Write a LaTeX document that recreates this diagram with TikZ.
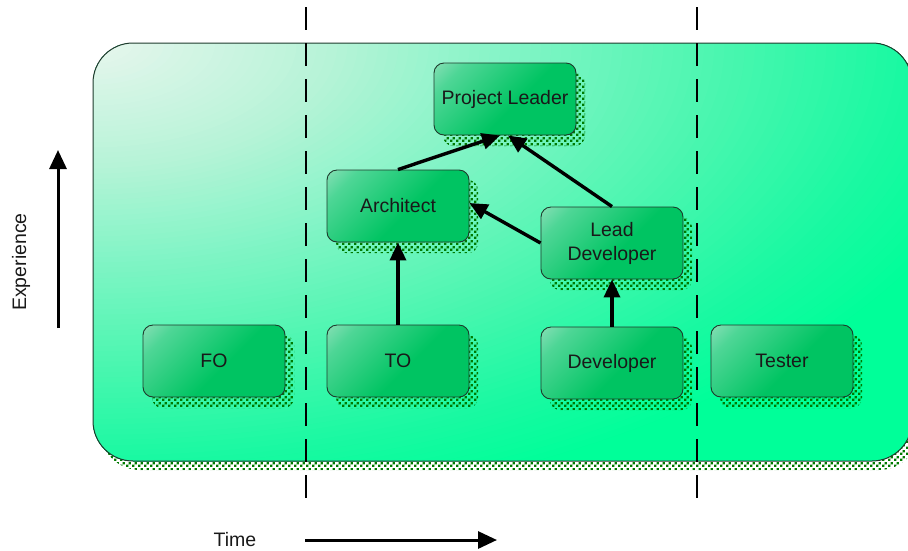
\documentclass[tikz,border=0pt]{standalone}
\usepackage{fontspec}
\setmainfont{Liberation Sans}
\usetikzlibrary{arrows.meta,patterns}

\definecolor{bglight}{HTML}{E8F6EE}
\definecolor{bgpale}{HTML}{B8F3D8}
\definecolor{bgmid}{HTML}{82F4C6}
\definecolor{bgdeep}{HTML}{4CF6B0}
\definecolor{bgnear}{HTML}{1AF9A2}
\definecolor{bggreen}{HTML}{00FF99}
\definecolor{nlight}{HTML}{D2ECE0}
\definecolor{nmid}{HTML}{4ED696}
\definecolor{ndark}{HTML}{00C462}
\definecolor{nborder}{HTML}{1E3A2C}
\definecolor{shadowgreen}{HTML}{007A00}

\pgfdeclareverticalshading{roleshade}{100bp}{color(0bp)=(ndark); color(45bp)=(ndark); color(75bp)=(nmid); color(100bp)=(nlight)}

% coarse square dots used for the drop shadows
\pgfdeclarepatternformonly{shadowdots}{\pgfpointorigin}{\pgfpoint{6pt}{6pt}}{\pgfpoint{6pt}{6pt}}{%
  \pgfpathrectangle{\pgfpoint{0pt}{0pt}}{\pgfpoint{2.7pt}{2.7pt}}%
  \pgfpathrectangle{\pgfpoint{3pt}{3pt}}{\pgfpoint{2.7pt}{2.7pt}}%
  \pgfusepath{fill}}

\tikzset{
  role/.style={shape=rectangle, rounded corners=10pt, draw=nborder, line width=0.9pt,
    shading=roleshade, shading angle=45, minimum width=142pt, minimum height=72pt,
    align=center, font=\fontsize{19.5}{24}\selectfont, text=black!90},
  dotshadow/.style={pattern=shadowdots, pattern color=shadowgreen},
  link/.style={line width=3.4pt, -{Triangle[length=18pt, width=16pt]}},
  axisarrow/.style={line width=3pt, -{Triangle[length=19pt, width=17pt]}},
  phase/.style={line width=2.8pt, dash pattern=on 23pt off 13pt},
  caption/.style={font=\fontsize{19.5}{24}\selectfont, text=black!90}
}

\begin{document}
\begin{tikzpicture}[x=1pt, y=-1pt]
  \useasboundingbox (0,0) rectangle (908,550);

  % panel shadow
  \path[dotshadow, rounded corners=40pt] (100,51) rectangle (919,470);

  % panel fill: elliptical glow spreading from the upper left corner
  \begin{scope}
    \clip[rounded corners=40pt] (93,43) rectangle (912,461);
    \fill[bggreen] (93,43) rectangle (912,461);
    \foreach \k in {92,...,1}{
      \pgfmathsetmacro\t{\k*0.0125}
      \ifdim\t pt<0.29pt
        \pgfmathsetmacro\p{100*(0.29-\t)/0.29}\colorlet{ring}{bglight!\p!bgpale}
      \else\ifdim\t pt<0.52pt
        \pgfmathsetmacro\p{100*(0.52-\t)/0.23}\colorlet{ring}{bgpale!\p!bgmid}
      \else\ifdim\t pt<0.77pt
        \pgfmathsetmacro\p{100*(0.77-\t)/0.25}\colorlet{ring}{bgmid!\p!bgdeep}
      \else\ifdim\t pt<1.0pt
        \pgfmathsetmacro\p{100*(1.0-\t)/0.23}\colorlet{ring}{bgdeep!\p!bgnear}
      \else
        \pgfmathsetmacro\p{100*(1.15-\t)/0.15}\colorlet{ring}{bgnear!\p!bggreen}
      \fi\fi\fi\fi
      \pgfmathsetmacro\rx{815*\t}
      \pgfmathsetmacro\ry{418*\t}
      \fill[ring] (93,43) ellipse [x radius=\rx pt, y radius=\ry pt];
    }
  \end{scope}
  \draw[nborder, line width=1pt, rounded corners=40pt] (93,43) rectangle (912,461);

  % role shadows
  \foreach \cx/\cy in {505/99, 398/206, 612/243, 214/361, 398/361, 612/363, 782/361}
    \path[dotshadow, rounded corners=10pt] (\cx-62,\cy-26) rectangle (\cx+80,\cy+47);

  % roles
  \node[role] (pl)   at (505,99)  {Project Leader};
  \node[role] (arch) at (398,206) {Architect};
  \node[role] (lead) at (612,243) {Lead\\Developer};
  \node[role] (fo)   at (214,361) {FO};
  \node[role] (to)   at (398,361) {TO};
  \node[role] (dev)  at (612,363) {Developer};
  \node[role] (test) at (782,361) {Tester};

  % career links
  \draw[link] (to.north) -- (arch.south);
  \draw[link] (dev.north) -- (lead.south);
  \draw[link] (lead.west) -- ([yshift=3pt]arch.east);
  \draw[link] (arch.north) -- ([xshift=-5pt]pl.south);
  \draw[link] (lead.north) -- ([xshift=3pt]pl.south);

  % phase separators
  \coordinate (s1top) at (306,7);
  \coordinate (s1bot) at (306,499);
  \coordinate (s2top) at (697,7);
  \coordinate (s2bot) at (697,499);
  \draw[phase] (s1top) -- (s1bot);
  \draw[phase] (s2top) -- (s2bot);

  % axes
  \coordinate (ybase) at (58,328);
  \coordinate (ytip)  at (58,150);
  \draw[axisarrow] (ybase) -- (ytip);
  \node[caption, rotate=90] (explabel) at (21,262) {Experience};

  \coordinate (xbase) at (305,540);
  \coordinate (xtip)  at (497,540);
  \draw[axisarrow] (xbase) -- (xtip);
  \node[caption] (timelabel) at (235,540) {Time};
\end{tikzpicture}
\end{document}
